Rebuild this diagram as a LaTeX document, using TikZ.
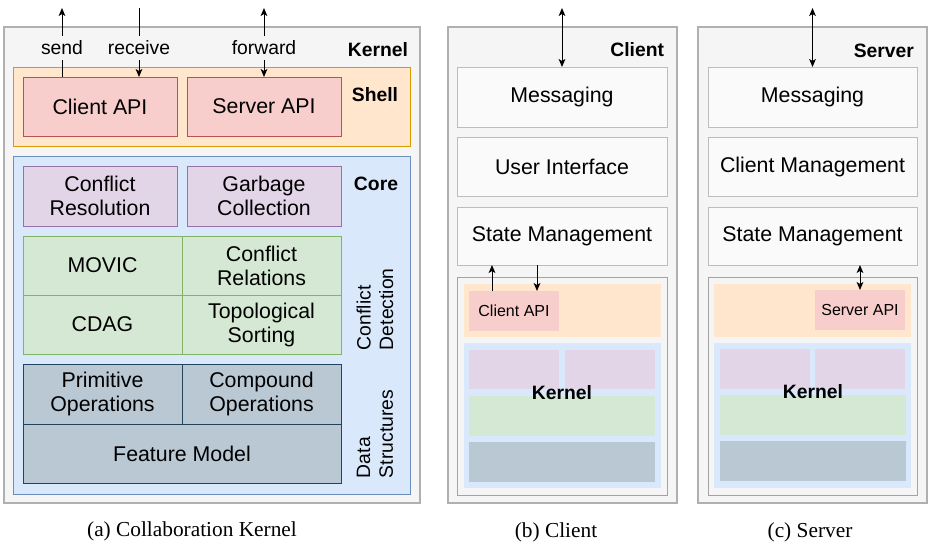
\documentclass[tikz,border=0pt]{standalone}
\usepackage{fontspec}
\setmainfont{Liberation Serif}
\setsansfont{Liberation Sans}
\usepackage{tikz}
\usetikzlibrary{arrows.meta,positioning,calc}
\usepackage{xcolor}
\definecolor{outerFill}{HTML}{F5F5F5}
\definecolor{outerLine}{HTML}{B0B0B0}
\definecolor{layerFill}{HTML}{FAFAFA}
\definecolor{layerLine}{HTML}{BDBDBD}
\definecolor{innerLine}{HTML}{A3A3A3}
\definecolor{shellFill}{HTML}{FFE6CC}
\definecolor{shellLine}{HTML}{D79B00}
\definecolor{coreFill}{HTML}{DAE8FC}
\definecolor{coreLine}{HTML}{6C8EBF}
\definecolor{apiFill}{HTML}{F8CECC}
\definecolor{apiLine}{HTML}{B85450}
\definecolor{resFill}{HTML}{E1D5E7}
\definecolor{resLine}{HTML}{9673A6}
\definecolor{detFill}{HTML}{D5E8D4}
\definecolor{detLine}{HTML}{82B366}
\definecolor{dataFill}{HTML}{BAC8D3}
\definecolor{dataLine}{HTML}{23445D}

\begin{document}
\begin{tikzpicture}[x=0.75pt, y=-0.75pt,
  every node/.style={font=\sffamily\fontsize{16}{18}\selectfont, inner sep=0pt, outer sep=0pt},
  boxsize/.style n args={2}{anchor=north west, minimum width=#1*0.75pt, minimum height=#2*0.75pt},
  area/.style n args={2}{draw=#1, fill=#2, line width=1pt},
  cell/.style n args={2}{draw=#1, fill=#2, line width=0.75pt, align=center},
  patch/.style={fill=#1, draw=none},
  smalltext/.style={font=\sffamily\fontsize{12}{14}\selectfont},
  tagname/.style={font=\sffamily\bfseries\fontsize{14.5}{17}\selectfont},
  sidename/.style={font=\sffamily\fontsize{14.5}{17}\selectfont, rotate=90,
    anchor=west, align=left},
  flowlabel/.style={fill=outerFill, font=\sffamily\fontsize{14.5}{17}\selectfont,
    inner xsep=1pt, inner ysep=3.5pt},
  link/.style={line width=0.75pt, -{Stealth[length=6pt, width=5pt, inset=1.5pt]}},
  twoway/.style={line width=0.75pt, {Stealth[length=6pt, width=5pt, inset=1.5pt]}-{Stealth[length=6pt, width=5pt, inset=1.5pt]}},
  caption/.style={font=\rmfamily\fontsize{16}{18}\selectfont},
]
\useasboundingbox (0,0) rectangle (928,543);
% (a) COLLABORATION KERNEL
\node[area={outerLine}{outerFill}, boxsize={416}{476}] (kernA) at (4,27) {};
\node[tagname, anchor=east] (kernATag) at (408,50) {Kernel};
\node[cell={shellLine}{shellFill}, boxsize={397}{79}] (shellA) at (13,67) {};
\node[tagname] (shellATag) at (375,95) {Shell};
\node[cell={apiLine}{apiFill}, boxsize={154}{59}] (capiA) at (23,77) {Client API};
\node[cell={apiLine}{apiFill}, boxsize={154}{59}] (sapiA) at (187,77) {Server API};
\node[cell={coreLine}{coreFill}, boxsize={397}{338}] (coreA) at (13,156) {};
\node[tagname] (coreATag) at (376,184) {Core};
\node[cell={resLine}{resFill}, boxsize={154}{60}] (resol) at (23,166) {Conflict\\Resolution};
\node[cell={resLine}{resFill}, boxsize={154}{60}] (garb) at (187,166) {Garbage\\Collection};
\node[cell={detLine}{detFill}, boxsize={159}{59}] (movic) at (23,236) {MOVIC};
\node[cell={detLine}{detFill}, boxsize={159}{59}] (rel) at (182,236) {Conflict\\Relations};
\node[cell={detLine}{detFill}, boxsize={159}{59}] (cdag) at (23,295) {CDAG};
\node[cell={detLine}{detFill}, boxsize={159}{59}] (topo) at (182,295) {Topological\\Sorting};
\node[cell={dataLine}{dataFill}, boxsize={159}{60}] (prim) at (23,364) {Primitive\\Operations};
\node[cell={dataLine}{dataFill}, boxsize={159}{60}] (comp) at (182,364) {Compound\\Operations};
\node[cell={dataLine}{dataFill}, boxsize={318}{59}] (fm) at (23,424) {Feature Model};
\node[sidename] (detTag) at (375,350) {Conflict\\Detection};
\node[sidename] (dataTag) at (375,478) {Data\\Structures};
\coordinate (sendEnd) at (62,8);
\coordinate (recvStart) at (139,8);
\coordinate (fwdEnd) at (264,8);
\draw[link] (capiA.north -| sendEnd) -- (sendEnd);
\draw[link] (recvStart) -- (capiA.north -| recvStart);
\draw[twoway] (sapiA.north) -- (fwdEnd);
\node[flowlabel] (sendLbl) at (62,48) {send};
\node[flowlabel] (recvLbl) at (139,48) {receive};
\node[flowlabel] (fwdLbl) at (264,48) {forward};
\node[caption] (capA) at (192,531) {(a) Collaboration Kernel};
% (b) CLIENT
\node[area={outerLine}{outerFill}, boxsize={229}{476}] (client) at (448,27) {};
\node[tagname, anchor=east] (clientTag) at (664,50) {Client};
\node[cell={layerLine}{layerFill}, boxsize={210}{60}] (msgB) at (457,67) {Messaging};
\node[cell={layerLine}{layerFill}, boxsize={210}{59}] (ui) at (457,137) {User Interface};
\node[cell={layerLine}{layerFill}, boxsize={210}{58}] (stateB) at (457,207) {State Management};
\node[cell={innerLine}{outerFill}, boxsize={210}{218}] (kernB) at (457,277) {};
\node[patch=shellFill, boxsize={197}{53}] (shellB) at (464,284) {};
\node[patch=apiFill, boxsize={90}{40}, smalltext] (capiB) at (469,291) {Client API};
\node[patch=coreFill, boxsize={197}{145}] (coreB) at (464,343) {};
\node[patch=resFill, boxsize={90}{39}] (resB) at (469,350) {};
\node[patch=resFill, boxsize={90}{39}] (garbB) at (565,350) {};
\node[patch=detFill, boxsize={186}{40}] (detB) at (469,396) {};
\node[patch=dataFill, boxsize={186}{40}] (dataB) at (469,442) {};
\node[tagname] (kernBTag) at (562,393) {Kernel};
\coordinate (clientOut) at (562,8);
\coordinate (upB) at (492,0);
\coordinate (downB) at (537,0);
\draw[twoway] (msgB.north) -- (clientOut);
\draw[link] (capiB.north -| upB) -- (stateB.south -| upB);
\draw[link] (stateB.south -| downB) -- (capiB.north -| downB);
\node[caption] (capB) at (556,532) {(b) Client};
% (c) SERVER
\node[area={outerLine}{outerFill}, boxsize={229}{476}] (server) at (698,27) {};
\node[tagname, anchor=east] (serverTag) at (914,51) {Server};
\node[cell={layerLine}{layerFill}, boxsize={209}{60}] (msgC) at (708,67) {Messaging};
\node[cell={layerLine}{layerFill}, boxsize={209}{59}] (clmgmt) at (708,137) {Client Management};
\node[cell={layerLine}{layerFill}, boxsize={209}{58}] (stateC) at (708,207) {State Management};
\node[cell={innerLine}{outerFill}, boxsize={209}{218}] (kernC) at (708,277) {};
\node[patch=shellFill, boxsize={197}{53}] (shellC) at (714,284) {};
\node[patch=apiFill, boxsize={90}{40}, smalltext] (sapiC) at (815,290) {Server API};
\node[patch=coreFill, boxsize={197}{145}] (coreC) at (714,343) {};
\node[patch=resFill, boxsize={90}{40}] (resC) at (720,349) {};
\node[patch=resFill, boxsize={90}{40}] (garbC) at (815,349) {};
\node[patch=detFill, boxsize={186}{40}] (detC) at (720,395) {};
\node[patch=dataFill, boxsize={186}{40}] (dataC) at (720,441) {};
\node[tagname] (kernCTag) at (813,392) {Kernel};
\coordinate (serverOut) at (812,8);
\draw[twoway] (msgC.north) -- (msgC.north |- serverOut);
\draw[twoway] (sapiC.north) -- (sapiC.north |- stateC.south);
\node[caption] (capC) at (810,532) {(c) Server};
\end{tikzpicture}
\end{document}
